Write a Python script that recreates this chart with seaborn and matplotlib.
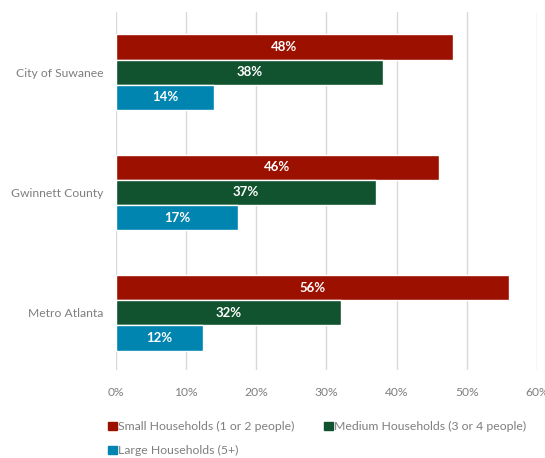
import pandas as pd
import matplotlib.pyplot as plt
import seaborn as sns
from matplotlib.patches import Patch

# datos
areas = ["City of Suwanee", "Gwinnett County", "Metro Atlanta"]
series = ["Small Households (1 or 2 people)", "Medium Households (3 or 4 people)", "Large Households (5+)"]
small = [48, 46, 56]
medium = [38, 37, 32]
large = [14, 17.4, 12.4]
colores = ["#9C1000", "#11532F", "#0085B0"]

df = pd.DataFrame({
    "area": areas * 3,
    "tipo": [series[0]] * 3 + [series[1]] * 3 + [series[2]] * 3,
    "valor": small + medium + large,
})

sns.set_style("white")
plt.rcParams["font.family"] = ["Lato", "DejaVu Sans"]

fig = plt.figure(figsize=(5.45, 4.58), dpi=100)
ax = fig.add_axes([0.2128, 0.192, 0.7725, 0.782])

sns.barplot(data=df, y="area", x="valor", hue="tipo", orient="h",
            palette=colores, width=0.625, ax=ax, legend=False, saturation=1)

etiquetas = [small, medium, large]
for cont, vals in zip(ax.containers, etiquetas):
    ax.bar_label(cont, labels=[f"{round(v)}%" for v in vals], label_type="center",
                 color="white", fontweight="bold", fontsize=9.5)

ax.set_xlim(0, 60)
ax.set_ylim(2.475, -0.5)
ax.set_xticks(range(0, 61, 10))
ax.set_xticklabels([f"{t}%" for t in range(0, 61, 10)])
ax.xaxis.grid(True, color="#d9d9d9", linewidth=1)
ax.set_axisbelow(True)
for s in ax.spines.values():
    s.set_visible(False)
ax.tick_params(axis="both", length=0, colors="#7f7f7f", labelsize=8.7)
ax.tick_params(axis="y", pad=9)
ax.tick_params(axis="x", pad=12)
ax.set_xlabel("")
ax.set_ylabel("")

handles = [Patch(color=c) for c in colores]
orden = [0, 2, 1]
leg = fig.legend([handles[i] for i in orden], [series[i] for i in orden],
                 ncol=2, loc="lower left", bbox_to_anchor=(0.178, -0.02),
                 frameon=False, fontsize=8.8, handlelength=0.7, handleheight=0.7,
                 handletextpad=0.15, columnspacing=2.4, labelspacing=1.05)
for t in leg.get_texts():
    t.set_color("#7f7f7f")

fig.savefig("out.png", dpi=100)
